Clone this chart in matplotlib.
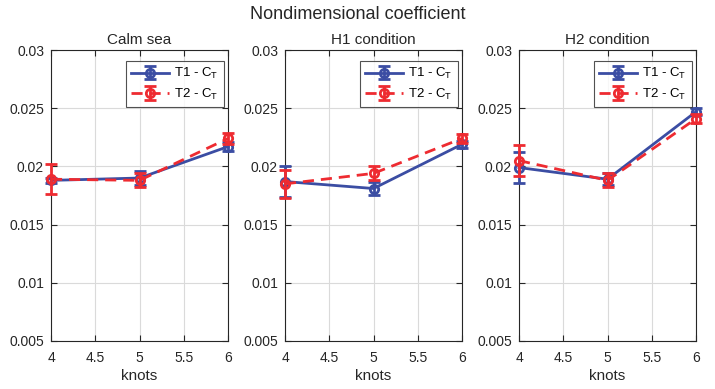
import matplotlib
matplotlib.use("Agg")
import matplotlib.pyplot as plt

plt.rcParams['font.family'] = ['Liberation Sans', 'DejaVu Sans']

knots = [4, 5, 6]
titles = ["Calm sea", "H1 condition", "H2 condition"]

t1_calm = [0.0188, 0.0190, 0.0217]
t1_calm_err = [0.0002, 0.0006, 0.0004]
t2_calm = [0.0189, 0.0188, 0.0224]
t2_calm_err = [0.0013, 0.0006, 0.0005]

t1_h1 = [0.0187, 0.0181, 0.0219]
t1_h1_err = [0.0013, 0.0006, 0.0003]
t2_h1 = [0.0185, 0.0194, 0.0224]
t2_h1_err = [0.0012, 0.0006, 0.0004]

t1_h2 = [0.0199, 0.0189, 0.0247]
t1_h2_err = [0.0013, 0.0005, 0.0003]
t2_h2 = [0.0205, 0.0188, 0.0241]
t2_h2_err = [0.0013, 0.0006, 0.0004]

series = [
    (t1_calm, t1_calm_err, t2_calm, t2_calm_err),
    (t1_h1, t1_h1_err, t2_h1, t2_h1_err),
    (t1_h2, t1_h2_err, t2_h2, t2_h2_err),
]

xticks = [4, 4.5, 5, 5.5, 6]
xticklabels = ["4", "4.5", "5", "5.5", "6"]
yticks = [0.005, 0.01, 0.015, 0.02, 0.025, 0.03]
yticklabels = ["0.005", "0.01", "0.015", "0.02", "0.025", "0.03"]

blue = "#3B4DA3"
red = "#EE2B31"

fig = plt.figure(figsize=(7.15, 3.89), dpi=100)
lefts = [51, 285, 519]
for i, (t1, e1, t2, e2) in enumerate(series):
    ax = fig.add_axes([lefts[i] / 715, 48 / 389, 177 / 715, 291 / 389])
    c1 = ax.errorbar(knots, t1, yerr=e1, color=blue, lw=2, marker='o', ms=6,
                     mfc='none', mew=2, capsize=4, capthick=2, elinewidth=2,
                     label=r"T1 - C$_\mathregular{T}$", zorder=3)
    c2 = ax.errorbar(knots, t2, yerr=e2, color=red, lw=2, ls='--', dashes=(4, 2.5),
                     marker='o', ms=6, mfc='none', mew=2, capsize=4, capthick=2,
                     elinewidth=2, label=r"T2 - C$_\mathregular{T}$", zorder=4)
    for cont in (c1, c2):
        for art in cont.get_children():
            art.set_clip_on(False)
    ax.set_xlim(4, 6)
    ax.set_ylim(0.005, 0.03)
    ax.set_xticks(xticks)
    ax.set_xticklabels(xticklabels)
    ax.set_yticks(yticks)
    ax.set_yticklabels(yticklabels)
    ax.grid(True, color='#DADADA', lw=0.8)
    ax.set_axisbelow(True)
    ax.tick_params(direction='in', top=True, right=True, labelsize=10,
                   length=4, width=0.8, colors='#262626')
    ax.tick_params(axis='x', pad=7)
    ax.tick_params(axis='y', pad=5)
    for sp in ax.spines.values():
        sp.set_color('#262626')
        sp.set_linewidth(0.8)
    ax.set_title(titles[i], fontsize=11, color='#262626', pad=4)
    ax.set_xlabel("knots", fontsize=11, color='#262626', labelpad=3)
    leg = ax.legend(loc='upper right', bbox_to_anchor=(1 - 4 / 177, 1 - 11 / 291),
                    fontsize=9.5, frameon=True, fancybox=False,
                    edgecolor='#262626', handlelength=2.9, borderpad=0.4,
                    labelspacing=0.4, handletextpad=0.4, borderaxespad=0)
    leg.get_frame().set_linewidth(0.8)

fig.suptitle("Nondimensional coefficient", fontsize=13, color='#262626', y=0.985)
fig.savefig("out.png", dpi=100)
